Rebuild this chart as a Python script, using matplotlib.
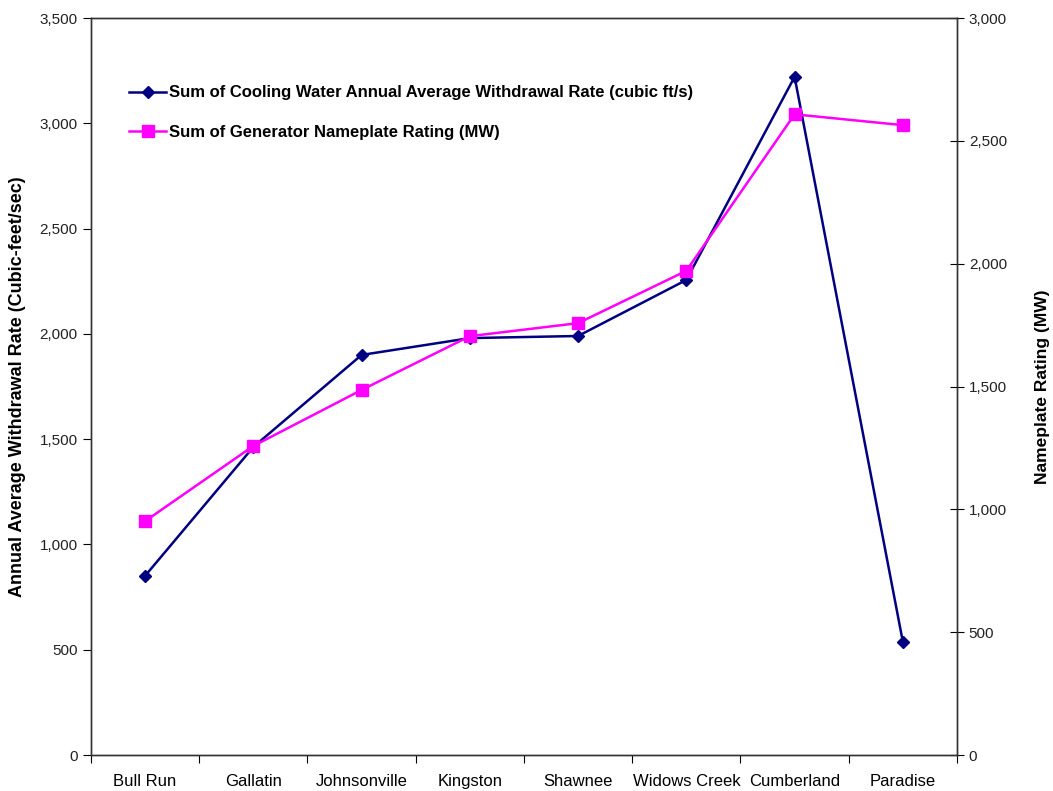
import matplotlib.pyplot as plt
from matplotlib.ticker import FuncFormatter, FixedLocator, NullFormatter

plants = ["Bull Run", "Gallatin", "Johnsonville", "Kingston", "Shawnee",
          "Widows Creek", "Cumberland", "Paradise"]
withdrawal_cfs = [851, 1463, 1900, 1980, 1990, 2256, 3221, 538]
nameplate_mw = [952, 1258, 1486, 1705, 1758, 1971, 2608, 2564]

plain = ["Liberation Sans", "DejaVu Sans"]

fig = plt.figure(figsize=(10.53, 7.91), dpi=100)
ax = fig.add_axes([0.0864, 0.0455, 0.8224, 0.9317])
ax2 = ax.twinx()

x = list(range(len(plants)))
l1, = ax.plot(x, withdrawal_cfs, color="#000080", linewidth=1.8, marker="D",
              markersize=6.5, label="Sum of Cooling Water Annual Average Withdrawal Rate (cubic ft/s)")
l2, = ax2.plot(x, nameplate_mw, color="#FF00FF", linewidth=1.8, marker="s",
               markersize=8, label="Sum of Generator Nameplate Rating (MW)")

ax.set_xlim(-0.5, len(plants) - 0.5)
ax.set_ylim(0, 3500)
ax2.set_ylim(0, 3000)
ax.set_yticks(range(0, 3501, 500))
ax2.set_yticks(range(0, 3001, 500))

comma = FuncFormatter(lambda v, p: f"{int(v):,}")
ax.yaxis.set_major_formatter(comma)
ax2.yaxis.set_major_formatter(comma)

# category labels sit between boundary ticks
ax.xaxis.set_major_locator(FixedLocator([i - 0.5 for i in range(len(plants) + 1)]))
ax.xaxis.set_major_formatter(NullFormatter())
ax.xaxis.set_minor_locator(FixedLocator(x))
ax.set_xticklabels(plants, minor=True, family=plain, fontsize=12)
ax.tick_params(axis="x", which="minor", length=0, pad=14)
ax.tick_params(axis="x", which="major", length=6, direction="out")

ax.tick_params(axis="y", direction="out", length=6, labelsize=11)
ax2.tick_params(axis="y", direction="inout", length=10, labelsize=11)
for lab in ax.get_yticklabels() + ax2.get_yticklabels():
    lab.set_family(plain)
    lab.set_color("#222222")

for a in (ax, ax2):
    for s in a.spines.values():
        s.set_linewidth(1.0)
        s.set_color("#333333")

ax.set_ylabel("Annual Average Withdrawal Rate (Cubic-feet/sec)", fontsize=13,
              fontweight="bold", family=plain, labelpad=10)
ax2.set_ylabel("Nameplate Rating (MW)", fontsize=12.5, fontweight="bold",
               family=plain, labelpad=20)

leg = ax.legend(handles=[l1, l2], loc="upper left", bbox_to_anchor=(0.027, 0.929),
                frameon=False, labelspacing=1.45, handlelength=2.2, handletextpad=0.2,
                prop={"family": plain, "weight": "bold", "size": 12})

fig.savefig("out.png", dpi=100)
